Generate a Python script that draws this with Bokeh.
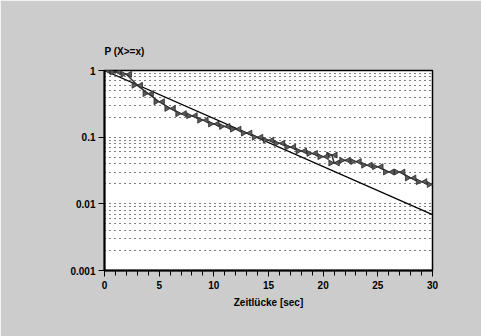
import math
from bokeh.plotting import figure
from bokeh.models import FixedTicker, CustomJSTickFormatter, Range1d
from bokeh.embed import file_html
from bokeh.resources import INLINE

# ---- data ----
gap_sec = [0, 1, 2, 3, 4, 5, 6, 7, 8, 9, 10, 11, 12, 13, 14, 15, 16, 17, 18,
           19, 20, 20.8, 21, 22, 23, 24, 25, 26, 27, 28, 29, 30]
p_emp = [1.0, 0.95, 0.88, 0.60, 0.45, 0.34, 0.27, 0.225, 0.21, 0.18, 0.158,
         0.145, 0.132, 0.115, 0.100, 0.090, 0.081, 0.071, 0.062, 0.057, 0.051,
         0.054, 0.041, 0.045, 0.043, 0.038, 0.036, 0.030, 0.030, 0.0244,
         0.0215, 0.0195]
fit_x = [0, 30]
fit_p = [1.0, 0.0069]

x_major = [0, 5, 10, 15, 20, 25, 30]
x_minor = list(range(0, 31))
y_major = [0.001, 0.01, 0.1, 1]
y_minor = [k * 10.0 ** e for e in (-3, -2, -1) for k in range(2, 10)]

FONT = "Liberation Sans"
W, H = 481, 336
BL, BR, BT, BB = 104, 49, 70, 66

p = figure(width=W, height=H, x_range=Range1d(0, 30),
           y_range=Range1d(0.001, 1), y_axis_type="log",
           output_backend="svg", toolbar_location=None,
           min_border_left=BL, min_border_right=BR,
           min_border_top=BT, min_border_bottom=BB,
           background_fill_color="white", border_fill_color="#cccccc")

p.title.text = "P (X>=x)"
p.title.align = "left"
p.title.text_font = FONT
p.title.text_font_size = "10px"
p.title.text_font_style = "bold"
p.title.text_color = "black"
p.title.standoff = 28

p.outline_line_color = "black"
p.outline_line_width = 1.5

# grid
p.xgrid.grid_line_color = None
p.ygrid.ticker = FixedTicker(ticks=y_major, minor_ticks=y_minor)
p.ygrid.grid_line_color = "black"
p.ygrid.grid_line_dash = "1 4"
p.ygrid.grid_line_width = 1.2
p.ygrid.minor_grid_line_color = "black"
p.ygrid.minor_grid_line_dash = "1 4"
p.ygrid.minor_grid_line_width = 1.2

# axes
xa = p.xaxis[0]
xa.ticker = FixedTicker(ticks=x_major, minor_ticks=x_minor)
xa.axis_label = "Zeitlücke [sec]"
ya = p.yaxis[0]
ya.ticker = FixedTicker(ticks=y_major, minor_ticks=y_minor)
ya.formatter = CustomJSTickFormatter(code="return String(tick);")
ya.minor_tick_line_color = None

for ax in (xa, ya):
    ax.axis_line_color = "black"
    ax.axis_line_width = 2
    ax.major_tick_line_color = "black"
    ax.major_tick_line_width = 1
    ax.minor_tick_line_width = 1
    ax.major_tick_in = 0
    ax.major_tick_out = 6
    ax.minor_tick_in = 0
    ax.minor_tick_out = 5
    ax.major_label_text_font = FONT
    ax.major_label_text_font_size = "10px"
    ax.major_label_text_font_style = "bold"
    ax.major_label_text_color = "black"
    ax.major_label_standoff = 3
    ax.axis_label_text_font = FONT
    ax.axis_label_text_font_size = "10px"
    ax.axis_label_text_font_style = "bold"
    ax.axis_label_text_color = "black"
    ax.axis_label_standoff = 5
xa.major_label_standoff = 4
xa.minor_tick_line_color = "black"

# exponential fit line
p.line(fit_x, fit_p, line_color="black", line_width=1.3)

# empirical distribution with bow-tie markers
p.line(gap_sec, p_emp, line_color="#333333", line_width=1.5)
px_per_unit = (W - BL - BR) / 30.0
tri_size = 6
d = (tri_size / 2 * math.sqrt(3) * 2 / 3) / px_per_unit
p.scatter([x - d for x in gap_sec], p_emp, marker="triangle", size=tri_size,
          angle=-math.pi / 2, fill_color="#5a5a5a", line_color="#2a2a2a",
          line_width=0.8)
p.scatter([x + d for x in gap_sec], p_emp, marker="triangle", size=tri_size,
          angle=math.pi / 2, fill_color="#5a5a5a", line_color="#2a2a2a",
          line_width=0.8)

open("out.html", "w").write(file_html(p, INLINE))
